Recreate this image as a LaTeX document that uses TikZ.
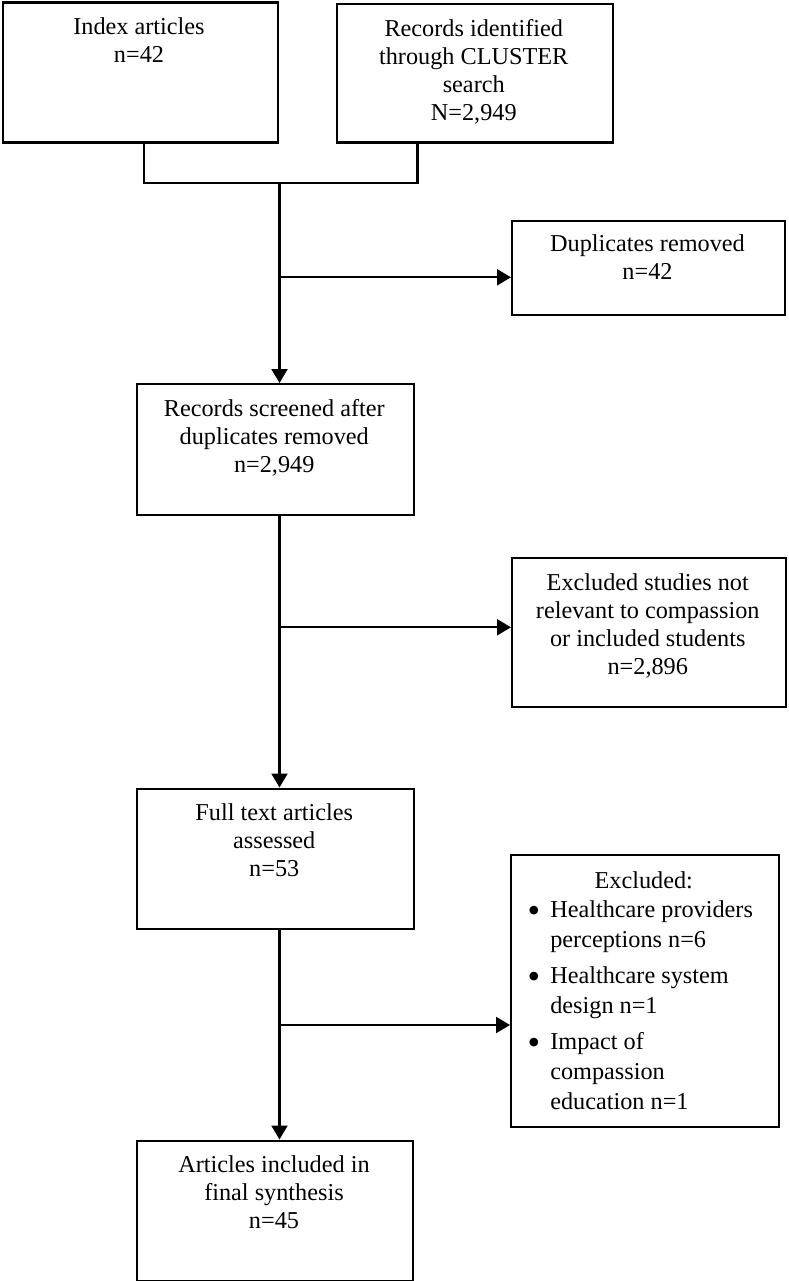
\documentclass[tikz,border=0pt]{standalone}
\usepackage{fontspec}
\setmainfont{Liberation Serif}
\usetikzlibrary{arrows.meta}
\newcommand{\bigbul}{\raisebox{-5pt}{\fontsize{36}{30}\selectfont\textbullet}}
\begin{document}
\begin{tikzpicture}[x=1pt,y=-1pt,
  box/.style={draw, line width=2.2pt, inner sep=0pt, anchor=north west},
  txt/.style={anchor=north, inner sep=0pt, align=center, font=\fontsize{24.25}{28}\selectfont},
  conn/.style={line width=2.2pt},
  arr/.style={conn, -{Triangle[length=14pt,width=16pt]}}]
\fill[white] (0,0) rectangle (788,1281);
\useasboundingbox (0,0) rectangle (788,1281);

% boxes
\node[box, minimum width=275pt, minimum height=140pt] (b1) at (1.5,1.5) {};
\node[box, minimum width=275.5pt, minimum height=138.5pt] (b2) at (336,3) {};
\node[box, minimum width=273pt, minimum height=94pt] (dup) at (511,220) {};
\node[box, minimum width=276.5pt, minimum height=131pt] (b3) at (136,383) {};
\node[box, minimum width=273.5pt, minimum height=149pt] (ex1) at (511,557) {};
\node[box, minimum width=276.5pt, minimum height=140.5pt] (b4) at (136,787.5) {};
\node[box, minimum width=267.5pt, minimum height=272.5pt] (ex2) at (510,853.5) {};
\node[box, minimum width=276pt, minimum height=140pt] (b5) at (136,1139.5) {};

% texts
\node[txt] (t1) at (139,17.9) {Index articles\\n=42};
\node[txt] (t2) at (473.75,19.4) {Records identified\\through CLUSTER\\search\\N=2,949};
\node[txt] (tdup) at (647.5,234) {Duplicates removed\\n=42};
\node[txt] (t3) at (274.25,399.4) {Records screened after\\duplicates removed\\n=2,949};
\node[txt] (tex1) at (647.75,573.4) {Excluded studies not\\relevant to compassion\\or included students\\n=2,896};
\node[txt] (t4) at (274.25,803.9) {Full text articles\\assessed\\n=53};
\node[txt] (tex2) at (643.75,871.4) {Excluded:};
\node[anchor=north west, inner sep=0pt, font=\fontsize{24.25}{30}\selectfont] (lst) at (527.5,896) {%
\begin{tabular}{@{}l@{\hspace{10pt}}l@{}}
\bigbul & Healthcare providers\\
 & perceptions n=6\\[6pt]
\bigbul & Healthcare system\\
 & design n=1\\[6pt]
\bigbul & Impact of\\
 & compassion\\
 & education n=1
\end{tabular}};
\node[txt] (t5) at (274,1155.9) {Articles included in\\final synthesis\\n=45};

% connectors
\coordinate (j) at (279.5,183.3);
\draw[conn] ([xshift=3.5pt]b1.south) |- (j) -| ([xshift=-57.45pt]b2.south);
\draw[arr] (j) -- (j |- b3.north);
\coordinate (a1) at (281,277.3);
\draw[arr] (a1) -- (a1 -| dup.west);
\draw[arr] (b3.south -| j) -- (b4.north -| j);
\coordinate (a2) at (281,627.3);
\draw[arr] (a2) -- (a2 -| ex1.west);
\draw[arr] (b4.south -| j) -- (b5.north -| j);
\coordinate (a3) at (281,1025);
\draw[arr] (a3) -- (a3 -| ex2.west);
\end{tikzpicture}
\end{document}
